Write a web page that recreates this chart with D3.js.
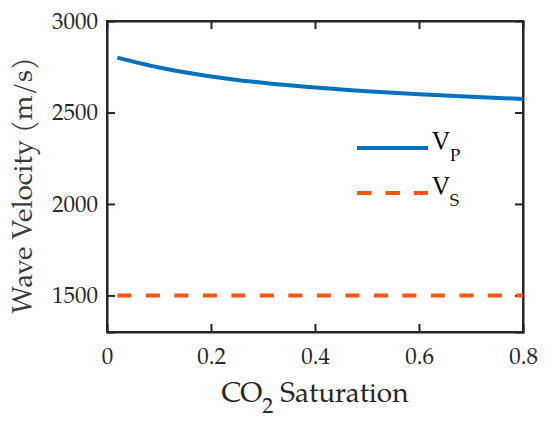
<!DOCTYPE html>
<html lang="en">
<head>
    <meta charset="UTF-8">
    <title>Wave Velocity vs CO2 Saturation</title>
    <script src="https://d3js.org/d3.v7.min.js"></script>
    <style>
        body {
            margin: 0;
            background: #fff;
        }
        svg {
            display: block;
        }
    </style>
</head>
<body>
<script>
    // values
    const saturation = [0.02, 0.1, 0.2, 0.3, 0.4, 0.5, 0.6, 0.7, 0.8]
    const vp = [2800, 2746, 2697, 2662, 2636, 2616, 2600, 2586, 2574]
    const vs = [1500, 1500, 1500, 1500, 1500, 1500, 1500, 1500, 1500]
    const xTicks = [0, 0.2, 0.4, 0.6, 0.8]
    const yTicks = [1500, 2000, 2500, 3000]

    const width = 550, height = 429
    const margin = {top: 21, right: 27, bottom: 97, left: 107}
    const ink = "#262626"
    const font = '"TeX Gyre Pagella", "Liberation Serif", serif'

    const svg = d3.select("body").append("svg")
        .attr("width", width)
        .attr("height", height)

    const x = d3.scaleLinear()
        .domain([0, 0.8])
        .range([margin.left, width - margin.right])
    const y = d3.scaleLinear()
        .domain([1300, 3000])
        .range([height - margin.bottom, margin.top])

    const tickLen = 8

    // axes, ticks pointing inward like MATLAB
    const bottomAxis = svg.append("g")
        .attr("transform", `translate(0,${y.range()[0]})`)
        .call(d3.axisBottom(x).tickValues(xTicks).tickSize(-tickLen).tickPadding(16)
            .tickFormat(d => d === 0 ? "0" : d3.format(".1f")(d)))
    const topAxis = svg.append("g")
        .attr("transform", `translate(0,${y.range()[1]})`)
        .call(d3.axisTop(x).tickValues(xTicks).tickSize(-tickLen).tickFormat(""))
    const leftAxis = svg.append("g")
        .attr("transform", `translate(${x.range()[0]},0)`)
        .call(d3.axisLeft(y).tickValues(yTicks).tickSize(-tickLen).tickPadding(9)
            .tickFormat(d3.format("d")))
    const rightAxis = svg.append("g")
        .attr("transform", `translate(${x.range()[1]},0)`)
        .call(d3.axisRight(y).tickValues(yTicks).tickSize(-tickLen).tickFormat(""))

    for (const ax of [bottomAxis, topAxis, leftAxis, rightAxis]) {
        ax.attr("font-family", null)
        ax.select(".domain").attr("stroke", ink).attr("stroke-width", 2)
        ax.selectAll(".tick line").attr("stroke", ink).attr("stroke-width", 2)
        ax.selectAll(".tick text")
            .attr("fill", ink)
            .style("font-family", font)
            .style("font-size", "23px")
    }
    // drop end ticks that sit on the frame corners
    for (const ax of [bottomAxis, topAxis]) {
        ax.selectAll(".tick").filter(d => d === 0 || d === 0.8).select("line").remove()
    }
    for (const ax of [leftAxis, rightAxis]) {
        ax.selectAll(".tick").filter(d => d === 3000).select("line").remove()
    }
    // square frame
    svg.append("rect")
        .attr("x", x.range()[0])
        .attr("y", y.range()[1])
        .attr("width", x.range()[1] - x.range()[0])
        .attr("height", y.range()[0] - y.range()[1])
        .attr("fill", "none")
        .attr("stroke", ink)
        .attr("stroke-width", 2)

    const line = d3.line()
        .x(d => x(d[0]))
        .y(d => y(d[1]))
        .curve(d3.curveMonotoneX)

    const blue = "#0072BD", orange = "#FF5511"

    svg.append("path")
        .datum(d3.zip(saturation, vp))
        .attr("d", line)
        .attr("fill", "none")
        .attr("stroke", blue)
        .attr("stroke-width", 4)

    svg.append("path")
        .datum(d3.zip(saturation, vs))
        .attr("d", line)
        .attr("fill", "none")
        .attr("stroke", orange)
        .attr("stroke-width", 4)
        .attr("stroke-dasharray", "14,14.5")

    // legend
    const legend = svg.append("g")
    const items = [
        {label: "V", sub: "P", color: blue, dash: null, y: 148},
        {label: "V", sub: "S", color: orange, dash: "14.5,14", y: 193}
    ]
    items.forEach(it => {
        legend.append("line")
            .attr("x1", 357).attr("x2", 428)
            .attr("y1", it.y).attr("y2", it.y)
            .attr("stroke", it.color)
            .attr("stroke-width", 4)
            .attr("stroke-dasharray", it.dash)
        const t = legend.append("text")
            .attr("x", 432)
            .attr("y", it.y + 2)
            .attr("fill", "#000")
            .style("font-family", font)
            .style("font-size", "25px")
        t.append("tspan").text(it.label)
        t.append("tspan")
            .attr("dy", 11)
            .style("font-size", "17px")
            .text(it.sub)
    })

    // axis labels
    const xl = svg.append("text")
        .attr("x", (x.range()[0] + x.range()[1]) / 2)
        .attr("y", 402)
        .attr("text-anchor", "middle")
        .attr("fill", ink)
        .style("font-family", font)
        .style("font-size", "28px")
    xl.append("tspan").text("CO")
    xl.append("tspan").attr("dy", 11).style("font-size", "22px").text("2")
    xl.append("tspan").attr("dy", -11).text(" Saturation")

    svg.append("text")
        .attr("transform", `translate(32,${(y.range()[0] + y.range()[1]) / 2 + 9}) rotate(-90)`)
        .attr("text-anchor", "middle")
        .attr("fill", "#3a3a3a")
        .style("font-family", font)
        .style("font-size", "28px")
        .text("Wave Velocity (m/s)")
</script>
</body>
</html>
